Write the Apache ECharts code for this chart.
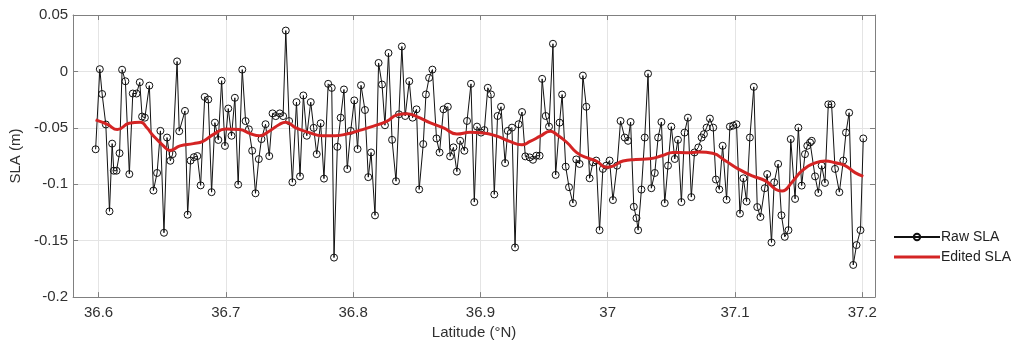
<!DOCTYPE html>
<html>
<head>
<meta charset="utf-8">
<script src="https://cdn.jsdelivr.net/npm/echarts@6/dist/echarts.min.js"></script>
<style>
  html, body { margin: 0; padding: 0; background: #fff; }
  #chart { width: 1017px; height: 345px; }
</style>
</head>
<body>
<div id="chart"></div>
<script>
// Along-track latitude of each raw altimeter sample (°N)
const rawLat = [
  36.5977, 36.6010, 36.6028, 36.6057, 36.6086, 36.6107, 36.6120, 36.6141, 36.6165, 36.6185,
  36.6211, 36.6242, 36.6269, 36.6298, 36.6324, 36.6342, 36.6364, 36.6399, 36.6431, 36.6460,
  36.6486, 36.6514, 36.6538, 36.6564, 36.6582, 36.6617, 36.6634, 36.6679, 36.6700, 36.6723,
  36.6749, 36.6776, 36.6802, 36.6834, 36.6862, 36.6888, 36.6914, 36.6941, 36.6967, 36.6993,
  36.7019, 36.7045, 36.7071, 36.7097, 36.7129, 36.7155, 36.7181, 36.7207, 36.7233, 36.7259,
  36.7280, 36.7312, 36.7341, 36.7367, 36.7392, 36.7424, 36.7450, 36.7471, 36.7497, 36.7523,
  36.7555, 36.7583, 36.7609, 36.7636, 36.7667, 36.7690, 36.7714, 36.7745, 36.7771, 36.7804,
  36.7832, 36.7850, 36.7876, 36.7902, 36.7928, 36.7954, 36.7981, 36.8009, 36.8035, 36.8062,
  36.8093, 36.8119, 36.8141, 36.8172, 36.8200, 36.8227, 36.8250, 36.8278, 36.8306, 36.8337,
  36.8360, 36.8383, 36.8409, 36.8441, 36.8467, 36.8498, 36.8519, 36.8551, 36.8572, 36.8597,
  36.8623, 36.8655, 36.8679, 36.8710, 36.8744, 36.8762, 36.8788, 36.8815, 36.8841, 36.8874,
  36.8895, 36.8926, 36.8952, 36.8973, 36.9005, 36.9031, 36.9058, 36.9083, 36.9109, 36.9135,
  36.9162, 36.9194, 36.9215, 36.9248, 36.9272, 36.9300, 36.9327, 36.9353, 36.9387, 36.9413,
  36.9439, 36.9465, 36.9485, 36.9513, 36.9539, 36.9570, 36.9591, 36.9622, 36.9642, 36.9670,
  36.9696, 36.9727, 36.9753, 36.9779, 36.9805, 36.9832, 36.9858, 36.9884, 36.9910, 36.9936,
  36.9962, 36.9988, 37.0015, 37.0041, 37.0074, 37.0101, 37.0134, 37.0160, 37.0180, 37.0205,
  37.0226, 37.0239, 37.0265, 37.0291, 37.0317, 37.0343, 37.0370, 37.0396, 37.0422, 37.0448,
  37.0474, 37.0500, 37.0527, 37.0552, 37.0579, 37.0604, 37.0630, 37.0657, 37.0682, 37.0712,
  37.0738, 37.0756, 37.0777, 37.0803, 37.0829, 37.0850, 37.0877, 37.0903, 37.0934, 37.0960,
  37.0986, 37.1012, 37.1039, 37.1066, 37.1091, 37.1117, 37.1148, 37.1175, 37.1200, 37.1234,
  37.1253, 37.1287, 37.1308, 37.1339, 37.1365, 37.1391, 37.1420, 37.1438, 37.1472, 37.1498,
  37.1524, 37.1550, 37.1568, 37.1590, 37.1603, 37.1629, 37.1655, 37.1681, 37.1707, 37.1733,
  37.1759, 37.1786, 37.1820, 37.1851, 37.1872, 37.1897, 37.1929, 37.1955, 37.1986, 37.2008
];

// Raw sea level anomaly (m)
const rawSla = [
  -0.069, 0.002, -0.020, -0.047, -0.124, -0.064, -0.088, -0.088, -0.0725, 0.0015,
  -0.0087, -0.091, -0.0196, -0.0196, -0.0096, -0.040, -0.041, -0.0126, -0.1056, -0.090,
  -0.0527, -0.143, -0.0586, -0.0792, -0.0733, 0.0089, -0.053, -0.035, -0.127, -0.079,
  -0.076, -0.075, -0.101, -0.0226, -0.0249, -0.107, -0.0454, -0.0607, -0.0082, -0.066,
  -0.0329, -0.057, -0.0234, -0.1003, 0.0016, -0.044, -0.0513, -0.0703, -0.108, -0.0777,
  -0.060, -0.0468, -0.075, -0.0372, -0.0396, -0.0372, -0.0396, 0.0362, -0.044, -0.0982,
  -0.0272, -0.093, -0.0213, -0.057, -0.0272, -0.050, -0.0733, -0.046, -0.095, -0.011,
  -0.0146, -0.165, -0.0668, -0.041, -0.016, -0.0865, -0.0527, -0.0257, -0.0688, -0.0123,
  -0.0342, -0.0937, -0.0718, -0.1276, 0.0075, -0.0116, -0.0477, 0.0163, -0.0606, -0.0973,
  -0.038, 0.0221, -0.0395, -0.0087, -0.041, -0.0336, -0.1046, -0.0644, -0.0204, -0.0057,
  0.0016, -0.0594, -0.0718, -0.0336, -0.0313, -0.0753, -0.0673, -0.0888, -0.0615, -0.0703,
  -0.0439, -0.011, -0.1158, -0.0489, -0.0542, -0.052, -0.0145, -0.0204, -0.109, -0.0395,
  -0.0313, -0.0812, -0.0527, -0.0498, -0.156, -0.0468, -0.036, -0.0753, -0.0762, -0.0783,
  -0.0747, -0.0747, -0.0066, -0.0395, -0.0489, 0.0245, -0.0917, -0.0454, -0.0205, -0.0844,
  -0.1026, -0.1167, -0.078, -0.082, -0.0037, -0.0313, -0.0947, -0.0806, -0.079, -0.1407,
  -0.0864, -0.0835, -0.079, -0.114, -0.0835, -0.0439, -0.0586, -0.0615, -0.0448, -0.120,
  -0.130, -0.1407, -0.1047, -0.0586, -0.002, -0.1035, -0.090, -0.0586, -0.0448, -0.1167,
  -0.0835, -0.0489, -0.0776, -0.0606, -0.1158, -0.0542, -0.041, -0.1114, -0.0718, -0.0674,
  -0.0586, -0.0556, -0.0498, -0.0418, -0.0498, -0.0958, -0.1046, -0.0659, -0.1137, -0.0489,
  -0.048, -0.0468, -0.126, -0.0947, -0.1153, -0.0586, -0.0137, -0.1202, -0.129, -0.1035,
  -0.091, -0.1516, -0.0983, -0.082, -0.1275, -0.1466, -0.1407, -0.060, -0.113, -0.0498,
  -0.1012, -0.0733, -0.0659, -0.063, -0.0615, -0.093, -0.1076, -0.0835, -0.0988, -0.0292,
  -0.0292, -0.0864, -0.107, -0.079, -0.0542, -0.0366, -0.1715, -0.1539, -0.1407, -0.0594
];

// Edited (filtered) SLA profile
const editedLat = [
  36.5977, 36.6070, 36.6148, 36.6240, 36.6330, 36.6380, 36.6430, 36.6510, 36.6560, 36.6640,
  36.6745, 36.6820, 36.6900, 36.7000, 36.7110, 36.7190, 36.7265, 36.7340, 36.7420, 36.7470,
  36.7550, 36.7650, 36.7760, 36.7860, 36.7966, 36.8030, 36.8160, 36.8267, 36.8345, 36.8420,
  36.8500, 36.8607, 36.8710, 36.8815, 36.8920, 36.9020, 36.9130, 36.9230, 36.9325, 36.9390,
  36.9470, 36.9548, 36.9600, 36.9680, 36.9757, 36.9835, 36.9910, 36.9990, 37.0040, 37.0120,
  37.0220, 37.0330, 37.0430, 37.0512, 37.0616, 37.0720, 37.0824, 37.0928, 37.1032, 37.1136,
  37.1240, 37.1318, 37.1370, 37.1449, 37.1527, 37.1631, 37.1710, 37.1787, 37.1865, 37.1943,
  37.2008
];
const editedSla = [
  -0.043, -0.047, -0.0515, -0.046, -0.045, -0.050, -0.057, -0.066, -0.070, -0.066,
  -0.064, -0.062, -0.056, -0.051, -0.0515, -0.055, -0.057, -0.053, -0.047, -0.045,
  -0.050, -0.054, -0.057, -0.057, -0.055, -0.053, -0.0485, -0.044, -0.0385, -0.0375,
  -0.040, -0.0456, -0.050, -0.0555, -0.054, -0.0545, -0.0574, -0.062, -0.065, -0.062,
  -0.0574, -0.053, -0.056, -0.063, -0.072, -0.0765, -0.0794, -0.085, -0.084, -0.0794,
  -0.078, -0.0774, -0.0745, -0.0718, -0.072, -0.0715, -0.0726, -0.0794, -0.0868, -0.0926,
  -0.097, -0.1044, -0.106, -0.098, -0.088, -0.081, -0.0794, -0.081, -0.0835, -0.0897,
  -0.093
];

const rawData = rawLat.map((lat, i) => [lat, rawSla[i]]);
const editedData = editedLat.map((lat, i) => [lat, editedSla[i]]);

const FONT = 'Liberation Sans, Arial, sans-serif';
const FRAME = '#808080';
const GRID = '#e4e4e4';
const TEXT = '#303030';
const RED = '#d42424';

const chart = echarts.init(document.getElementById('chart'), null, { renderer: 'canvas' });

const frameAxisCommon = {
  axisLine: { show: true, onZero: false, lineStyle: { color: FRAME, width: 1 } },
  axisTick: { show: true, inside: true, length: 5, lineStyle: { color: FRAME } },
  axisLabel: { show: false },
  splitLine: { show: false }
};

chart.setOption({
  animation: false,
  backgroundColor: '#ffffff',
  textStyle: { fontFamily: FONT },
  grid: { left: 73, right: 142, top: 15, bottom: 46, containLabel: false },
  legend: {
    orient: 'vertical',
    left: 893,
    top: 229,
    padding: 0,
    itemWidth: 46,
    itemHeight: 8,
    itemGap: 4,
    textStyle: { fontFamily: FONT, fontSize: 14, lineHeight: 16, color: '#222', padding: [0, 0, 0, -4] },
    data: [
      { name: 'Raw SLA' },
      { name: 'Edited SLA', icon: 'path://M0 0H46V3H0Z' }
    ]
  },
  xAxis: [
    {
      type: 'value',
      min: 36.58,
      max: 37.21,
      splitNumber: 6,
      name: 'Latitude (°N)',
      nameLocation: 'middle',
      nameGap: 25,
      nameTextStyle: { fontFamily: FONT, fontSize: 15, color: TEXT },
      axisLine: { show: true, onZero: false, lineStyle: { color: FRAME, width: 1 } },
      axisTick: { show: true, inside: true, length: 5, lineStyle: { color: FRAME } },
      axisLabel: {
        fontFamily: FONT, fontSize: 15, color: TEXT, margin: 8,
        showMinLabel: false, showMaxLabel: false
      },
      splitLine: { show: true, lineStyle: { color: GRID, width: 1 } }
    },
    Object.assign({
      type: 'value', position: 'top', min: 36.58, max: 37.21, splitNumber: 6
    }, frameAxisCommon)
  ],
  yAxis: [
    {
      type: 'value',
      min: -0.2,
      max: 0.05,
      interval: 0.05,
      name: 'SLA (m)',
      nameLocation: 'middle',
      nameGap: 50,
      nameTextStyle: { fontFamily: FONT, fontSize: 15, color: TEXT },
      axisLine: { show: true, onZero: false, lineStyle: { color: FRAME, width: 1 } },
      axisTick: { show: true, inside: true, length: 5, lineStyle: { color: FRAME } },
      axisLabel: { fontFamily: FONT, fontSize: 15, color: TEXT, margin: 5 },
      splitLine: { show: true, lineStyle: { color: GRID, width: 1 } }
    },
    Object.assign({
      type: 'value', position: 'right', min: -0.2, max: 0.05, interval: 0.05
    }, frameAxisCommon)
  ],
  series: [
    {
      name: 'Raw SLA',
      type: 'line',
      data: rawData,
      xAxisIndex: 0,
      yAxisIndex: 0,
      symbol: 'circle',
      symbolSize: 7,
      showAllSymbol: true,
      color: '#111',
      lineStyle: { color: '#111', width: 1 },
      itemStyle: { color: 'rgba(255,255,255,0)', borderColor: '#111', borderWidth: 1 },
      z: 2
    },
    {
      name: 'Edited SLA',
      type: 'line',
      data: editedData,
      xAxisIndex: 0,
      yAxisIndex: 0,
      smooth: 0.5,
      symbol: 'none',
      color: RED,
      lineStyle: { color: RED, width: 3 },
      z: 3
    }
  ]
});
</script>
</body>
</html>
